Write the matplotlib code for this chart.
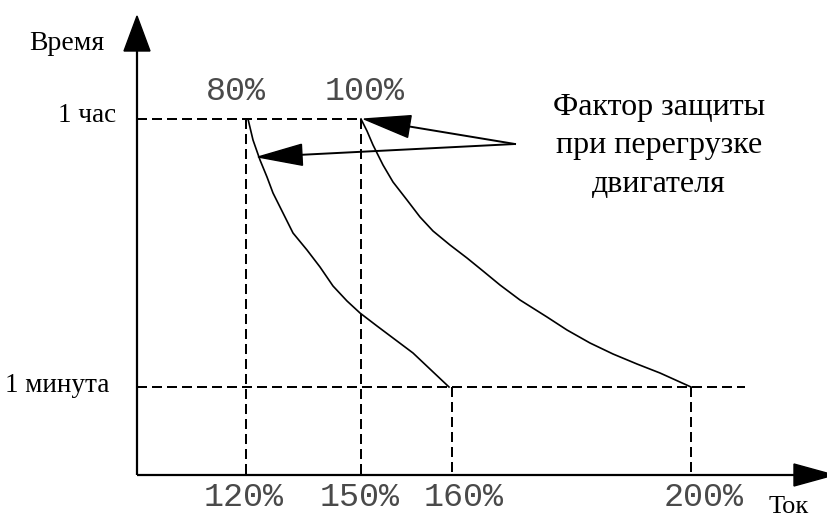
import matplotlib
matplotlib.use("Agg")
import matplotlib.pyplot as plt
from matplotlib.patches import Polygon
import numpy as np

# ---- schematic data (canvas coordinates, y grows downward) ----
y_label = "Время"
x_label = "Ток"
time_labels = ["1 час", "1 минута"]
time_levels = [119, 387]
top_pct_labels = ["80%", "100%"]
top_pct_x = [248, 361]
bottom_pct_labels = ["120%", "150%", "160%", "200%"]
bottom_pct_x = [246, 361, 452, 691]
note_lines = ["Фактор защиты", "при перегрузке", "двигателя"]

curve80_x = [248, 253, 260, 267, 273, 283, 293, 307, 320, 333, 347, 360, 377, 393, 413, 431, 449]
curve80_y = [119, 140, 160, 177, 193, 213, 233, 250, 267, 286, 301, 313, 326, 338, 353, 370, 387]
curve100_x = [361, 367, 373, 383, 393, 407, 420, 433, 450, 467, 483, 500, 520, 547, 567, 590, 613, 637, 660, 691]
curve100_y = [119, 131, 145, 165, 182, 200, 217, 231, 245, 258, 271, 285, 300, 317, 330, 343, 354, 364, 373, 387]

W, H = 828, 517
fig = plt.figure(figsize=(W / 100, H / 100), dpi=100)
ax = fig.add_axes([0, 0, 1, 1])
ax.set_xlim(0, W)
ax.set_ylim(H, 0)
ax.axis("off")

x0, y0 = 137, 475  # origin of schematic axes
lw_axis = 1.6
lw_dash = 1.44
dash = (0, (5, 2.5))

# axes
ax.plot([x0, x0], [y0, 48], color="black", lw=lw_axis, solid_capstyle="butt")
ax.plot([x0, 796], [y0, y0], color="black", lw=lw_axis, solid_capstyle="butt")
ax.add_patch(Polygon([[x0, 16], [x0 - 13, 51], [x0 + 13, 51]], closed=True,
                     color="black", clip_on=False))
ax.add_patch(Polygon([[834, y0], [794, y0 - 11], [794, y0 + 11]], closed=True,
                     color="black", clip_on=False))

# horizontal dashed guides
ax.plot([x0, top_pct_x[1]], [time_levels[0]] * 2, color="black", lw=lw_dash, ls=dash)
ax.plot([x0, 745], [time_levels[1]] * 2, color="black", lw=lw_dash, ls=dash)

# vertical dashed guides
ax.plot([bottom_pct_x[0]] * 2, [time_levels[0], y0], color="black", lw=lw_dash, ls=dash)
ax.plot([bottom_pct_x[1]] * 2, [time_levels[0], y0], color="black", lw=lw_dash, ls=dash)
ax.plot([bottom_pct_x[2]] * 2, [time_levels[1], y0], color="black", lw=lw_dash, ls=dash)
ax.plot([bottom_pct_x[3]] * 2, [time_levels[1], y0], color="black", lw=lw_dash, ls=dash)

# curves
ax.plot(curve80_x, curve80_y, color="black", lw=1.2)
ax.plot(curve100_x, curve100_y, color="black", lw=1.2)

# pointer arrows
def pointer(start, tip, head_len, head_w):
    s = np.array(start, float)
    t = np.array(tip, float)
    d = (t - s) / np.linalg.norm(t - s)
    n = np.array([-d[1], d[0]])
    base = t - d * head_len
    ax.plot([s[0], base[0]], [s[1], base[1]], color="black", lw=1.4)
    ax.add_patch(Polygon([t, base + n * head_w / 2, base - n * head_w / 2],
                         closed=True, color="black"))

pointer((515, 144), (364, 119), 46, 22)
pointer((515, 144), (258, 157), 44, 21)

serif = "Liberation Serif"
mono = "Liberation Mono"

ax.text(67, 44, y_label, fontsize=20, family=serif, ha="center", va="center")
ax.text(789, 507, x_label, fontsize=19, family=serif, ha="center", va="center")
ax.text(87, 116, time_labels[0], fontsize=19.5, family=serif, ha="center", va="center")
ax.text(57, 386, time_labels[1], fontsize=19.5, family=serif, ha="center", va="center")

for lab, xx in zip(top_pct_labels, [236, 365]):
    ax.text(xx, 92, lab, fontsize=24, family=mono, color="#4a4a4a", ha="center", va="center")
for lab, xx in zip(bottom_pct_labels, [244, 360, 464, 704]):
    ax.text(xx, 497, lab, fontsize=24, family=mono, color="#4a4a4a", ha="center", va="center")

for i, line in enumerate(note_lines):
    ax.text(659, 107 + i * 39, line, fontsize=23, family=serif, ha="center", va="center")

fig.savefig("out.png", dpi=100, facecolor="white")
